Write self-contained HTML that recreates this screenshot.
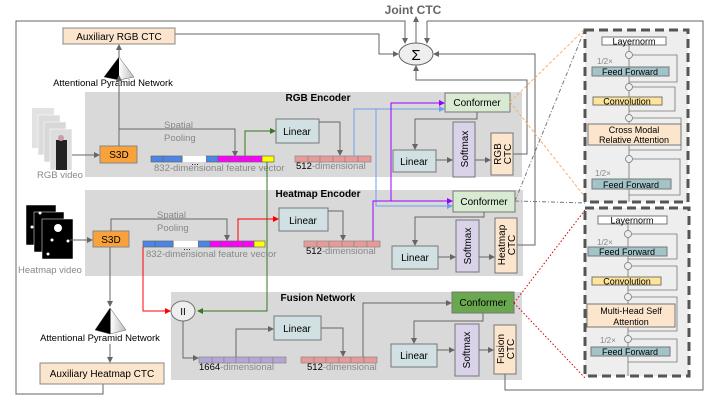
<!DOCTYPE html>
<html><head><meta charset="utf-8"><style>
html,body{margin:0;padding:0;background:#fff}
svg{display:block;font-family:"Liberation Sans",sans-serif}
</style></head><body>
<svg width="710" height="400" viewBox="0 0 710 400" xmlns="http://www.w3.org/2000/svg">
<defs>
<marker id="a" markerWidth="6" markerHeight="6" refX="5" refY="3" orient="auto" markerUnits="userSpaceOnUse"><path d="M0,0 L6,3 L0,6z" fill="#666"/></marker>
<marker id="ar" markerWidth="6" markerHeight="6" refX="5" refY="3" orient="auto" markerUnits="userSpaceOnUse"><path d="M0,0 L6,3 L0,6z" fill="#f00"/></marker>
<marker id="ag" markerWidth="6" markerHeight="6" refX="5" refY="3" orient="auto" markerUnits="userSpaceOnUse"><path d="M0,0 L6,3 L0,6z" fill="#38761d"/></marker>
<marker id="ab" markerWidth="6" markerHeight="6" refX="5" refY="3" orient="auto" markerUnits="userSpaceOnUse"><path d="M0,0 L6,3 L0,6z" fill="#6d9eeb"/></marker>
<marker id="ap" markerWidth="6" markerHeight="6" refX="5" refY="3" orient="auto" markerUnits="userSpaceOnUse"><path d="M0,0 L6,3 L0,6z" fill="#9900ff"/></marker>
<linearGradient id="tri" x1="0" x2="1"><stop offset="0" stop-color="#000"/><stop offset="0.5" stop-color="#000"/><stop offset="0.5" stop-color="#fff"/><stop offset="1" stop-color="#bbb"/></linearGradient>
</defs>

<rect x="85" y="92" width="437" height="85" fill="#d9d9d9"/>
<rect x="85" y="190" width="438" height="86" fill="#d9d9d9"/>
<rect x="171" y="292" width="351" height="88" fill="#d9d9d9"/>

<g fill="none" stroke="#666" stroke-width="1">
<path d="M427,21 H703 V390 H505 V374"/>
<path d="M103,384 V394 H16 V21 H63"/>
<path d="M175,34 H379 V54 H398" marker-end="url(#a)"/>
<path d="M16,21 H405 V43" marker-end="url(#a)"/>
<path d="M427,21 V43" marker-end="url(#a)"/>
<path d="M416,43 V17" marker-end="url(#a)"/>
<path d="M513,154 H527 V80 H416 V66" marker-end="url(#a)"/>
<path d="M517,245 H535 V54 H434" marker-end="url(#a)"/>
</g>
<text x="413" y="14" font-size="12" font-weight="bold" fill="#666" text-anchor="middle">Joint CTC</text>
<ellipse cx="416" cy="54" rx="17" ry="11" fill="#eee" stroke="#666"/>
<text x="416" y="60" font-size="15" text-anchor="middle">Σ</text>

<rect x="63" y="28" width="112" height="16" fill="#fce5cd" stroke="#888"/>
<text x="119" y="40" font-size="10" text-anchor="middle">Auxiliary RGB CTC</text>
<polygon points="119,57 104,77 119,80 134,77" fill="url(#tri)" stroke="#555" stroke-width="0.5"/>
<text x="113" y="86" font-size="9.5" text-anchor="middle">Attentional Pyramid Network</text>
<path d="M119,57 V45" stroke="#666" marker-end="url(#a)"/>

<g>
<rect x="32" y="108" width="22" height="40" fill="#e2e2e2"/>
<rect x="38" y="115" width="22" height="40" fill="#dcdcdc" stroke="#fff" stroke-width="0.5"/>
<rect x="44" y="122" width="22" height="40" fill="#d8d8d8" stroke="#fff" stroke-width="0.5"/>
<rect x="50" y="129" width="22" height="41" fill="#ddd" stroke="#fff" stroke-width="0.5"/>
<rect x="56" y="140" width="11" height="30" fill="#222"/>
<circle cx="61" cy="138" r="3" fill="#c9a"/>
</g>
<text x="37" y="178" font-size="9.5" fill="#888">RGB video</text>
<path d="M72,155 H99" stroke="#666" marker-end="url(#a)"/>
<rect x="100" y="146" width="37" height="17" fill="#f9a23a" stroke="#888"/>
<text x="119" y="158" font-size="10" text-anchor="middle">S3D</text>
<g fill="none" stroke="#666">
<path d="M119,146 V82"/>
<path d="M119,129 H235 V156" marker-end="url(#a)"/>
</g>
<path d="M119,82 V76" stroke="#666" marker-end="url(#a)"/>
<text x="164" y="128" font-size="9.5" fill="#888">Spatial</text>
<text x="164" y="141" font-size="9.5" fill="#888">Pooling</text>

<g stroke="#666" stroke-width="0.7">
<rect x="151" y="156" width="12" height="6" fill="#4a86e8"/>
<rect x="163" y="156" width="19" height="6" fill="#4a86e8"/>
<rect x="206" y="156" width="12" height="6" fill="#4a86e8"/>
<rect x="218" y="156" width="11" height="6" fill="#ff00ff"/>
<rect x="229" y="156" width="11" height="6" fill="#ff00ff"/>
<rect x="240" y="156" width="11" height="6" fill="#ff00ff"/>
<rect x="251" y="156" width="11" height="6" fill="#ff00ff"/>
<rect x="262" y="156" width="12" height="6" fill="#ffff00"/>
</g>
<rect x="183" y="156" width="23" height="6" fill="#fff"/>
<text x="195" y="165" font-size="9" text-anchor="middle">...</text>
<text x="154" y="171" font-size="9.5" fill="#888">832-dimensional feature vector</text>
<path d="M245,156 V131 H275" fill="none" stroke="#38761d" marker-end="url(#ag)"/>
<path d="M267,162 V311 H198" fill="none" stroke="#38761d" marker-end="url(#ag)"/>
<rect x="276" y="119" width="43" height="24" fill="#d0e0e3" stroke="#777"/>
<text x="297" y="135" font-size="10" text-anchor="middle">Linear</text>
<path d="M319,122 H340 V155" fill="none" stroke="#666" marker-end="url(#a)"/>
<g stroke="#888" stroke-width="0.7" fill="#ea9999">
<rect x="295" y="156" width="13" height="6"/><rect x="308" y="156" width="12" height="6"/><rect x="320" y="156" width="13" height="6"/><rect x="333" y="156" width="12" height="6"/><rect x="345" y="156" width="13" height="6"/><rect x="358" y="156" width="13" height="6"/>
</g>
<text x="296" y="169" font-size="9.5" fill="#888"><tspan fill="#000">512</tspan>-dimensional</text>
<text x="318" y="101" font-size="10" font-weight="bold" text-anchor="middle">RGB Encoder</text>

<path d="M354,156 V109 H444" fill="none" stroke="#6d9eeb" marker-end="url(#ab)"/>
<path d="M376,109 V206 H452" fill="none" stroke="#6d9eeb" marker-end="url(#ab)"/>
<path d="M373,241 V201 H452" fill="none" stroke="#9900ff" marker-end="url(#ap)"/>
<path d="M391,201 V103 H444" fill="none" stroke="#9900ff" marker-end="url(#ap)"/>

<rect x="445" y="93" width="65" height="19" fill="#d9ead3" stroke="#777"/>
<text x="477" y="106" font-size="10" text-anchor="middle">Conformer</text>
<path d="M477,112 V119 H415 V149" fill="none" stroke="#666" marker-end="url(#a)"/>
<rect x="393" y="150" width="43" height="22" fill="#d0e0e3" stroke="#777"/>
<text x="414" y="165" font-size="10" text-anchor="middle">Linear</text>
<path d="M436,160 H452" stroke="#666" marker-end="url(#a)"/>
<rect x="453" y="122" width="22" height="55" fill="#d9d2e9" stroke="#777"/>
<text transform="translate(468,149) rotate(-90)" font-size="10" text-anchor="middle">Softmax</text>
<path d="M475,160 H490" stroke="#666" marker-end="url(#a)"/>
<rect x="491" y="133" width="22" height="42" fill="#fce5cd" stroke="#777"/>
<text transform="translate(501,154) rotate(-90)" font-size="10" text-anchor="middle">RGB</text>
<text transform="translate(511,154) rotate(-90)" font-size="10" text-anchor="middle">CTC</text>

<text x="318" y="197" font-size="10" font-weight="bold" text-anchor="middle">Heatmap Encoder</text>
<g>
<rect x="26" y="205" width="30" height="40" fill="#000" stroke="#fff" stroke-width="0.5"/>
<rect x="34" y="212" width="30" height="40" fill="#000" stroke="#fff" stroke-width="0.5"/>
<rect x="42" y="219" width="31" height="40" fill="#000" stroke="#fff" stroke-width="0.5"/>
<circle cx="58" cy="228" r="4" fill="#fff"/><circle cx="52" cy="240" r="1.5" fill="#fff"/><circle cx="68" cy="241" r="1.5" fill="#fff"/><circle cx="48" cy="254" r="1.5" fill="#fff"/><circle cx="32" cy="227" r="1.5" fill="#fff"/><circle cx="40" cy="213" r="1.5" fill="#fff"/>
</g>
<text x="18" y="273" font-size="9.5" fill="#888">Heatmap video</text>
<path d="M70,240 H92" stroke="#666" marker-end="url(#a)"/>
<rect x="93" y="231" width="36" height="16" fill="#f9a23a" stroke="#888"/>
<text x="111" y="243" font-size="10" text-anchor="middle">S3D</text>
<path d="M111,231 V219 H227 V240" fill="none" stroke="#666" marker-end="url(#a)"/>
<text x="157" y="218" font-size="9.5" fill="#888">Spatial</text>
<text x="157" y="231" font-size="9.5" fill="#888">Pooling</text>
<g stroke="#666" stroke-width="0.7">
<rect x="143" y="241" width="12" height="6" fill="#4a86e8"/>
<rect x="155" y="241" width="18" height="6" fill="#4a86e8"/>
<rect x="198" y="241" width="12" height="6" fill="#4a86e8"/>
<rect x="210" y="241" width="11" height="6" fill="#ff00ff"/>
<rect x="221" y="241" width="11" height="6" fill="#ff00ff"/>
<rect x="232" y="241" width="11" height="6" fill="#ff00ff"/>
<rect x="243" y="241" width="11" height="6" fill="#ff00ff"/>
<rect x="254" y="241" width="11" height="6" fill="#ffff00"/>
</g>
<rect x="174" y="241" width="24" height="6" fill="#fff"/>
<text x="187" y="250" font-size="9" text-anchor="middle">...</text>
<text x="146" y="257" font-size="9.5" fill="#888">832-dimensional feature vector</text>
<path d="M238,241 V219 H278" fill="none" stroke="#f00" marker-end="url(#ar)"/>
<path d="M143,247 V311 H170" fill="none" stroke="#f00" marker-end="url(#ar)"/>
<rect x="279" y="208" width="49" height="23" fill="#d0e0e3" stroke="#777"/>
<text x="303" y="224" font-size="10" text-anchor="middle">Linear</text>
<path d="M328,211 H343 V240" fill="none" stroke="#666" marker-end="url(#a)"/>
<g stroke="#888" stroke-width="0.7" fill="#ea9999">
<rect x="304" y="241" width="13" height="6"/><rect x="317" y="241" width="12" height="6"/><rect x="329" y="241" width="13" height="6"/><rect x="342" y="241" width="12" height="6"/><rect x="354" y="241" width="13" height="6"/><rect x="367" y="241" width="13" height="6"/>
</g>
<text x="306" y="254" font-size="9.5" fill="#888"><tspan fill="#000">512</tspan>-dimensional</text>
<rect x="453" y="191" width="62" height="21" fill="#d9ead3" stroke="#777"/>
<text x="484" y="205" font-size="10" text-anchor="middle">Conformer</text>
<path d="M484,212 V217 H415 V245" fill="none" stroke="#666" marker-end="url(#a)"/>
<rect x="392" y="246" width="46" height="23" fill="#d0e0e3" stroke="#777"/>
<text x="415" y="261" font-size="10" text-anchor="middle">Linear</text>
<path d="M438,257 H455" stroke="#666" marker-end="url(#a)"/>
<rect x="456" y="220" width="23" height="52" fill="#d9d2e9" stroke="#777"/>
<text transform="translate(471,246) rotate(-90)" font-size="10" text-anchor="middle">Softmax</text>
<path d="M479,257 H494" stroke="#666" marker-end="url(#a)"/>
<rect x="495" y="218" width="22" height="55" fill="#fce5cd" stroke="#777"/>
<text transform="translate(505,245) rotate(-90)" font-size="10" text-anchor="middle">Heatmap</text>
<text transform="translate(515,245) rotate(-90)" font-size="10" text-anchor="middle">CTC</text>

<path d="M110,247 V306" stroke="#666" marker-end="url(#a)"/>
<polygon points="110,308 95,330 110,334 126,330" fill="url(#tri)" stroke="#555" stroke-width="0.5"/>
<text x="100" y="341" font-size="9.5" text-anchor="middle">Attentional Pyramid Network</text>
<path d="M110,344 V362" stroke="#666" marker-end="url(#a)"/>
<rect x="40" y="363" width="124" height="21" fill="#fce5cd" stroke="#888"/>
<text x="102" y="377" font-size="10" text-anchor="middle">Auxiliary Heatmap CTC</text>

<text x="318" y="301" font-size="10" font-weight="bold" text-anchor="middle">Fusion Network</text>
<ellipse cx="183" cy="311" rx="12" ry="10" fill="#eee" stroke="#777"/>
<text x="183" y="315" font-size="10" text-anchor="middle">II</text>
<path d="M183,321 V358 H198" fill="none" stroke="#666" marker-end="url(#a)"/>
<g stroke="#888" stroke-width="0.7" fill="#b4a7d6">
<rect x="199" y="357" width="13" height="6"/><rect x="212" y="357" width="12" height="6"/><rect x="224" y="357" width="12" height="6"/><rect x="236" y="357" width="13" height="6"/><rect x="249" y="357" width="12" height="6"/><rect x="261" y="357" width="12" height="6"/><rect x="273" y="357" width="13" height="6"/>
</g>
<text x="199" y="370" font-size="9.5" fill="#888"><tspan fill="#000">1664</tspan>-dimensional</text>
<path d="M236,357 V329 H273" fill="none" stroke="#666" marker-end="url(#a)"/>
<rect x="274" y="316" width="47" height="24" fill="#d0e0e3" stroke="#777"/>
<text x="297" y="332" font-size="10" text-anchor="middle">Linear</text>
<path d="M321,328 H343 V356" fill="none" stroke="#666" marker-end="url(#a)"/>
<g stroke="#888" stroke-width="0.7" fill="#ea9999">
<rect x="301" y="357" width="13" height="6"/><rect x="314" y="357" width="12" height="6"/><rect x="326" y="357" width="13" height="6"/><rect x="339" y="357" width="12" height="6"/><rect x="351" y="357" width="13" height="6"/><rect x="364" y="357" width="13" height="6"/>
</g>
<text x="307" y="370" font-size="9.5" fill="#888"><tspan fill="#000">512</tspan>-dimensional</text>
<path d="M363,357 V303 H451" fill="none" stroke="#666" marker-end="url(#a)"/>
<rect x="452" y="292" width="62" height="21" fill="#6aa84f" stroke="#777"/>
<text x="483" y="306" font-size="10" text-anchor="middle">Conformer</text>
<path d="M483,313 V321 H414 V343" fill="none" stroke="#666" marker-end="url(#a)"/>
<rect x="391" y="344" width="46" height="23" fill="#d0e0e3" stroke="#777"/>
<text x="414" y="359" font-size="10" text-anchor="middle">Linear</text>
<path d="M437,350 H454" stroke="#666" marker-end="url(#a)"/>
<rect x="455" y="324" width="24" height="52" fill="#d9d2e9" stroke="#777"/>
<text transform="translate(470,350) rotate(-90)" font-size="10" text-anchor="middle">Softmax</text>
<path d="M479,350 H493" stroke="#666" marker-end="url(#a)"/>
<rect x="494" y="325" width="22" height="49" fill="#fce5cd" stroke="#777"/>
<text transform="translate(504,349) rotate(-90)" font-size="10" text-anchor="middle">Fusion</text>
<text transform="translate(514,349) rotate(-90)" font-size="10" text-anchor="middle">CTC</text>

<g fill="none" stroke-width="1">
<path d="M510,102 L585,29 M510,102 L585,197" stroke="#f6b26b" stroke-dasharray="3,2"/>
<path d="M515,201 L585,29 M515,201 L585,203" stroke="#777" stroke-dasharray="4,2,1,2"/>
<path d="M514,303 L585,210 M514,303 L585,378" stroke="#c00" stroke-dasharray="1.5,2"/>
</g>

<rect x="585" y="30" width="103" height="172" fill="#eee" stroke="#555" stroke-width="3" stroke-dasharray="9,5"/>
<g fill="none" stroke="#777" stroke-width="0.8">
<path d="M629,202 V45"/>
<path d="M629,195 H680 V159 H633"/>
<path d="M629,150 H681 V118 H633"/>
<path d="M629,111 H675 V87 H633"/>
<path d="M629,82 H677 V55 H633"/>
</g>
<g fill="#eee" stroke="#777" stroke-width="0.8">
<circle cx="629" cy="55" r="3.5"/><circle cx="629" cy="87" r="3.5"/><circle cx="629" cy="118" r="3.5"/><circle cx="629" cy="159" r="3.5"/>
</g>
<rect x="602" y="37" width="64" height="8" fill="#fff" stroke="#777"/>
<text x="634" y="44.5" font-size="9" text-anchor="middle">Layernorm</text>
<text x="597" y="64" font-size="8" fill="#888">1/2×</text>
<rect x="592" y="67" width="77" height="9" fill="#a2c4c9" stroke="#777"/>
<text x="630" y="75" font-size="9" text-anchor="middle">Feed Forward</text>
<rect x="593" y="97" width="69" height="8" fill="#ffe599" stroke="#777"/>
<text x="627" y="104.5" font-size="9" text-anchor="middle">Convolution</text>
<rect x="588" y="124" width="93" height="21" fill="#fce5cd" stroke="#777"/>
<text x="634" y="133" font-size="9" text-anchor="middle">Cross Modal</text>
<text x="634" y="143" font-size="9" text-anchor="middle">Relative Attention</text>
<text x="595" y="176" font-size="8" fill="#888">1/2×</text>
<rect x="592" y="179" width="79" height="10" fill="#a2c4c9" stroke="#777"/>
<text x="631" y="188" font-size="9" text-anchor="middle">Feed Forward</text>

<rect x="585" y="208" width="104" height="168" fill="#eee" stroke="#555" stroke-width="3" stroke-dasharray="9,5"/>
<g fill="none" stroke="#777" stroke-width="0.8">
<path d="M628,376 V224"/>
<path d="M628,362 H677 V339 H632"/>
<path d="M628,331 H677 V297 H632"/>
<path d="M628,290 H677 V266 H632"/>
<path d="M628,259 H677 V234 H632"/>
</g>
<g fill="#eee" stroke="#777" stroke-width="0.8">
<circle cx="628" cy="234" r="3.5"/><circle cx="628" cy="266" r="3.5"/><circle cx="628" cy="297" r="3.5"/><circle cx="628" cy="339" r="3.5"/>
</g>
<rect x="598" y="216" width="69" height="8" fill="#fff" stroke="#777"/>
<text x="632" y="223.5" font-size="9" text-anchor="middle">Layernorm</text>
<text x="597" y="245" font-size="8" fill="#888">1/2×</text>
<rect x="588" y="247" width="79" height="9" fill="#a2c4c9" stroke="#777"/>
<text x="627" y="255" font-size="9" text-anchor="middle">Feed Forward</text>
<rect x="592" y="277" width="69" height="8" fill="#ffe599" stroke="#777"/>
<text x="627" y="284.5" font-size="9" text-anchor="middle">Convolution</text>
<rect x="587" y="304" width="88" height="23" fill="#fce5cd" stroke="#777"/>
<text x="631" y="314" font-size="9" text-anchor="middle">Multi-Head Self</text>
<text x="631" y="325" font-size="9" text-anchor="middle">Attention</text>
<text x="600" y="343" font-size="8" fill="#888">1/2×</text>
<rect x="591" y="347" width="79" height="9" fill="#a2c4c9" stroke="#777"/>
<text x="630" y="355" font-size="9" text-anchor="middle">Feed Forward</text>
</svg>
</body></html>
